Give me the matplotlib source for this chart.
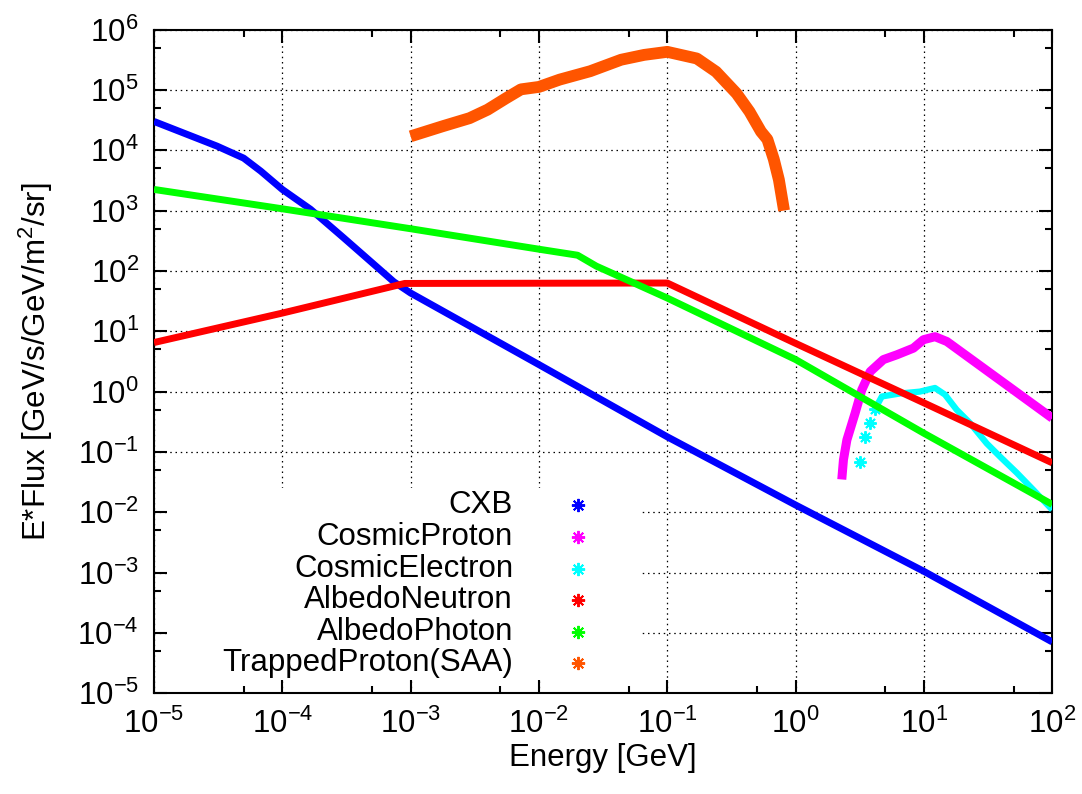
import matplotlib
matplotlib.use('Agg')
import matplotlib.pyplot as plt
from matplotlib.ticker import LogLocator, NullFormatter
from matplotlib.patches import Rectangle

plt.rcParams['font.family'] = 'Liberation Sans'
plt.rcParams['mathtext.fontset'] = 'custom'
plt.rcParams['mathtext.rm'] = 'Liberation Sans'
plt.rcParams['mathtext.it'] = 'Liberation Sans:italic'
plt.rcParams['mathtext.bf'] = 'Liberation Sans:bold'
plt.rcParams['mathtext.default'] = 'regular'

# values (E in GeV, E*Flux in GeV/s/GeV/m^2/sr)
cxb_e = [1e-5, 3.1e-5, 5.0e-5, 6.8e-5, 1e-4, 1.66e-4, 3.0e-4, 7.4e-4, 1e-3, 1e-2, 1e-1, 1, 10, 100]
cxb_f = [3.0e4, 1.17e4, 7.4e3, 4.5e3, 2.24e3, 1.05e3, 355, 66, 43, 2.8, 0.178, 0.0132, 1.05e-3, 7.1e-5]

cproton_e = [2.29, 2.36, 2.51, 2.91, 3.28, 3.81, 4.83, 6.15, 8.28, 9.91, 12.2, 15.1, 100]
cproton_f = [0.035, 0.074, 0.158, 0.44, 1.07, 2.14, 3.39, 4.07, 5.25, 7.24, 8.13, 6.76, 0.363]

# sparse low energy points, then the dense part
celec_pts_e = [3.18, 3.48, 3.81, 4.17]
celec_pts_f = [0.069, 0.178, 0.30, 0.52]
celec_e = [4.17, 4.7, 6.5, 9.3, 12.2, 14.6, 18.0, 22.9, 30.9, 39.3, 53, 71.4, 100]
celec_f = [0.52, 0.83, 0.93, 1.0, 1.15, 0.89, 0.50, 0.30, 0.138, 0.083, 0.045, 0.0234, 0.011]

aneutron_e = [1e-5, 1e-4, 9e-4, 0.1, 1, 10, 100]
aneutron_f = [6.5, 20, 62, 63, 6.3, 0.65, 0.066]

aphoton_e = [1e-5, 1e-4, 1e-3, 1e-2, 0.02, 0.028, 0.055, 0.1, 1, 10, 100]
aphoton_f = [2240, 1070, 500, 229, 182, 120, 63, 35.5, 3.4, 0.204, 0.0135]

saa_e = [1.0e-3, 1.78e-3, 2.88e-3, 3.98e-3, 5.5e-3, 7.24e-3, 0.01, 0.0145, 0.0251, 0.0437,
         0.066, 0.1, 0.17, 0.24, 0.347, 0.437, 0.537, 0.603, 0.676, 0.741, 0.813]
saa_f = [1.7e4, 2.5e4, 3.4e4, 4.7e4, 7.2e4, 1.02e5, 1.12e5, 1.48e5, 2.04e5, 3.16e5,
         3.8e5, 4.27e5, 3.31e5, 2.0e5, 8.7e4, 4.37e4, 2.04e4, 1.51e4, 7.1e3, 3.24e3, 1.0e3]

labels = ['CXB', 'CosmicProton', 'CosmicElectron', 'AlbedoNeutron', 'AlbedoPhoton', 'TrappedProton(SAA)']
colors = ['#0000ff', '#ff00ff', '#00ffff', '#ff0000', '#00ff00', '#ff5500']

FS = 22.5
star = (8, 2, 0)

fig = plt.figure(figsize=(10.82, 7.94), dpi=100)
ax = fig.add_axes([0.1423, 0.1268, 0.8302, 0.8360])
ax.set_xscale('log')
ax.set_yscale('log')
ax.set_xlim(1e-5, 1e2)
ax.set_ylim(1e-5, 1e6)

ax.set_axisbelow(True)
ax.grid(True, which='major', color='black', linestyle=(0, (1.2, 3)), linewidth=0.9)

# opaque key box, like gnuplot
ax.add_patch(Rectangle((0.0156, 0.021), 0.543 - 0.0156, 0.309 - 0.021, transform=ax.transAxes,
                       facecolor='white', edgecolor='none', zorder=1))

kw = dict(solid_joinstyle='round', solid_capstyle='butt', zorder=3)
ax.plot(cxb_e, cxb_f, color=colors[0], lw=5, **kw)
ax.plot(cproton_e, cproton_f, color=colors[1], lw=6.5, **kw)
ax.plot(celec_pts_e, celec_pts_f, ls='none', marker=star, ms=9, mew=1.4, color=colors[2], zorder=3)
ax.plot(celec_e, celec_f, color=colors[2], lw=4.5, **kw)
ax.plot(aneutron_e, aneutron_f, color=colors[3], lw=5, **kw)
ax.plot(aphoton_e, aphoton_f, color=colors[4], lw=5, **kw)
ax.plot(saa_e, saa_f, color=colors[5], lw=8.5, **kw)

# key entries: text right aligned, symbol to the right
rows = [0.2837, 0.236, 0.188, 0.141, 0.0919, 0.0452]
for lab, col, yy in zip(labels, colors, rows):
    ax.text(0.3997, yy, lab, transform=ax.transAxes, ha='right', va='center', fontsize=FS, zorder=4)
    ax.plot([0.472], [yy], transform=ax.transAxes, ls='none', marker=star, ms=9.5, mew=1.4,
            color=col, zorder=4)

ax.xaxis.set_major_locator(LogLocator(base=10, numticks=20))
ax.yaxis.set_major_locator(LogLocator(base=10, numticks=20))
ax.xaxis.set_minor_locator(LogLocator(base=10, subs=(5.0,), numticks=20))
ax.yaxis.set_minor_locator(LogLocator(base=10, subs=(5.0,), numticks=20))
ax.xaxis.set_minor_formatter(NullFormatter())
ax.yaxis.set_minor_formatter(NullFormatter())

ax.tick_params(which='both', direction='in', top=True, right=True, width=1.5, labelsize=FS, pad=11)
ax.tick_params(which='major', length=9.5)
ax.tick_params(which='minor', length=5)
for sp in ax.spines.values():
    sp.set_linewidth(1.5)

ax.set_xlabel('Energy [GeV]', fontsize=FS, labelpad=2)
ax.set_ylabel('E*Flux [GeV/s/GeV/m$^2$/sr]', fontsize=FS, labelpad=16)

fig.savefig('out.png', dpi=100)
